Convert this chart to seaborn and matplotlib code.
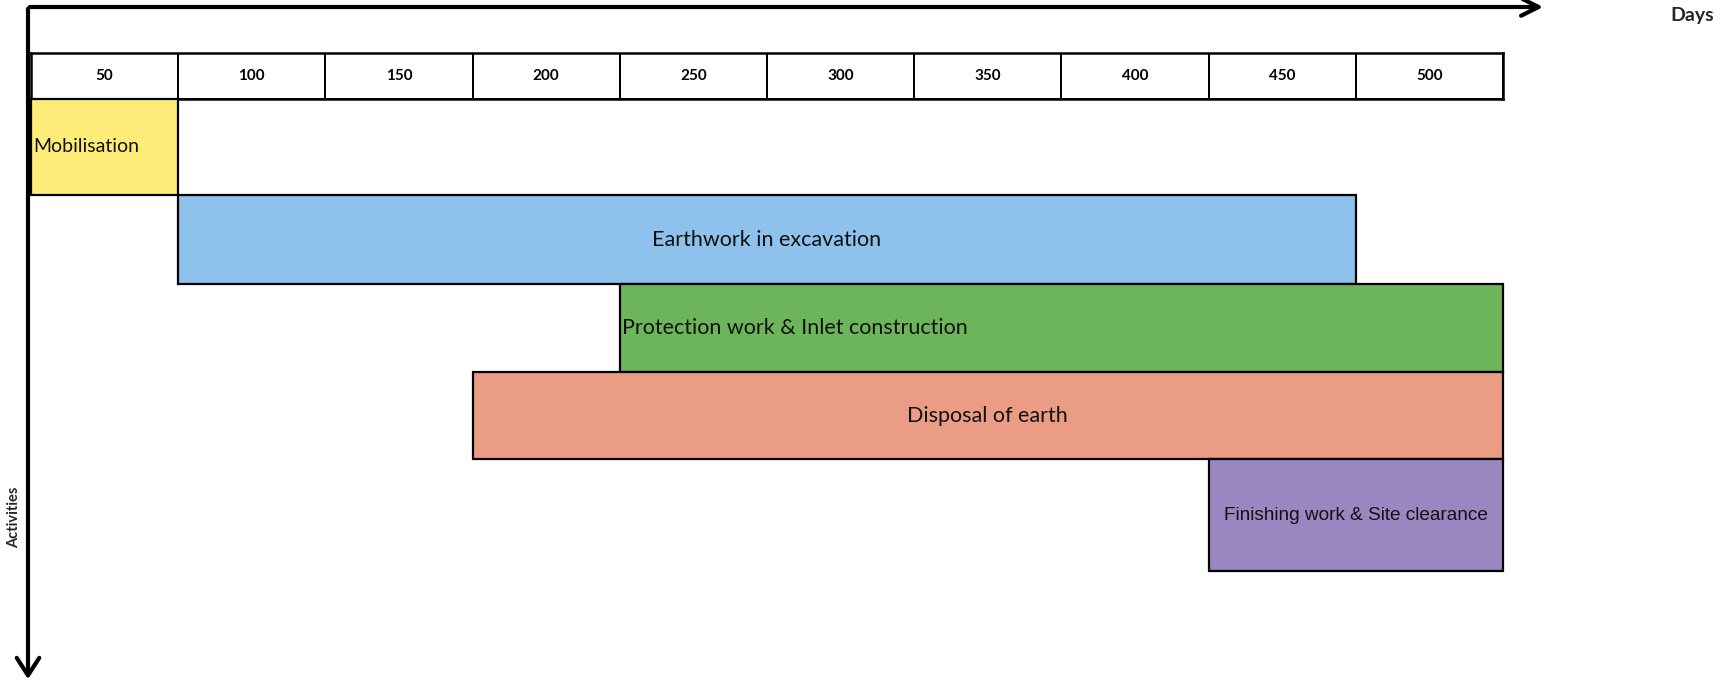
"""Gantt-style schedule: activities vs days."""

import matplotlib

matplotlib.use("Agg")
import matplotlib.pyplot as plt
import numpy as np
import seaborn as sns
from matplotlib.colors import ListedColormap
from matplotlib.patches import FancyArrowPatch

ACTIVITIES = [
    "Mobilisation",
    "Earthwork in excavation",
    "Protection work & Inlet construction",
    "Disposal of earth",
    "Finishing work & Site clearance",
]
START_DAY = [0, 50, 200, 150, 400]
END_DAY = [50, 450, 500, 500, 500]
DAY_TICKS = [50, 100, 150, 200, 250, 300, 350, 400, 450, 500]

# style
BAR_COLORS = ["#fdec78", "#8ec1ec", "#6db55a", "#ea9c84", "#9a86c0"]
ROW_HEIGHTS = [96, 89, 88, 87, 112]
LABEL_ALIGN = ["left", "center", "left", "center", "center"]
LABEL_FONTS = ["Lato", "Lato", "Lato", "Lato", "Liberation Sans"]
LABEL_SIZES = [14, 15.5, 15.5, 15.5, 13.7]

W, H = 1733, 683

sns.set_theme(style="white")
plt.rcParams["font.family"] = ["Lato", "DejaVu Sans"]

fig = plt.figure(figsize=(W / 100, H / 100), dpi=100, facecolor="white")


def px_axes(x0, y0, x1, y1):
    return fig.add_axes([x0 / W, 1 - y1 / H, (x1 - x0) / W, (y1 - y0) / H])


def fx(x):
    return x / W


def fy(y):
    return 1 - y / H


# header row with day marks
hax = px_axes(31, 53, 1503, 99)
sns.heatmap(
    np.zeros((1, len(DAY_TICKS))),
    ax=hax,
    cmap=ListedColormap(["white"]),
    cbar=False,
    annot=np.array([[str(d) for d in DAY_TICKS]]),
    fmt="",
    annot_kws=dict(fontsize=11, fontweight="bold", color="black"),
    linewidths=1.2,
    linecolor="black",
    xticklabels=False,
    yticklabels=False,
)
for spine in hax.spines.values():
    spine.set_visible(True)
    spine.set_linewidth(1.8)
    spine.set_color("black")

# activity bars
bax = px_axes(31, 99, 1503, 571)
bounds = np.concatenate([[0], np.cumsum(ROW_HEIGHTS)])
centers = (bounds[:-1] + bounds[1:]) / 2
starts = np.array(START_DAY)
ends = np.array(END_DAY)
bars = bax.barh(
    centers,
    ends - starts,
    left=starts,
    height=ROW_HEIGHTS,
    color=BAR_COLORS,
    edgecolor="black",
    linewidth=1.6,
)
for b in bars:
    b.set_clip_on(False)
bax.set_xlim(0, 500)
bax.set_ylim(bounds[-1], 0)
bax.axis("off")

for name, s, e, yc, al, fam, size in zip(ACTIVITIES, starts, ends, centers,
                                         LABEL_ALIGN, LABEL_FONTS, LABEL_SIZES):
    x = s + 0.8 if al == "left" else (s + e) / 2
    bax.text(x, yc, name, ha=al, va="center", fontsize=size, color="#111111",
             family=[fam, "DejaVu Sans"])

# axis arrows
top_arrow = FancyArrowPatch(
    (fx(27), fy(7)), (fx(1546), fy(7)), transform=fig.transFigure,
    arrowstyle="->,head_length=0.7,head_width=0.35", mutation_scale=18,
    linewidth=3, color="black",
)
left_arrow = FancyArrowPatch(
    (fx(28), fy(6)), (fx(28), fy(682)), transform=fig.transFigure,
    arrowstyle="->,head_length=0.7,head_width=0.45", mutation_scale=18,
    linewidth=3, color="black",
)
fig.add_artist(top_arrow)
fig.add_artist(left_arrow)

fig.text(fx(1692), fy(16), "Days", ha="center", va="center", fontsize=14, fontweight="bold")
fig.text(fx(14), fy(517), "Activities", ha="center", va="center", rotation=90,
         fontsize=10.5, fontweight="bold")

fig.savefig("out.png", dpi=100, facecolor="white")
plt.close(fig)
